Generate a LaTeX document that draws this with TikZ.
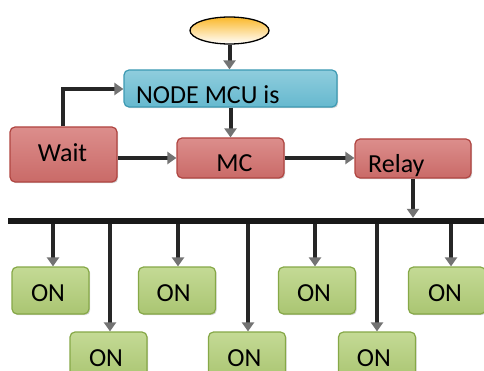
\documentclass[tikz,border=0pt]{standalone}
\usepackage{fontspec}
\setmainfont{Carlito}
\usetikzlibrary{arrows.meta,shadows,shapes.geometric}
\definecolor{redbase}{HTML}{C0504D}
\definecolor{redtop}{HTML}{DC8E8C}
\definecolor{redline}{HTML}{B04541}
\definecolor{bluebase}{HTML}{4BACC6}
\definecolor{bluetop}{HTML}{8FCDDD}
\definecolor{blueline}{HTML}{3D9AB3}
\definecolor{greenbase}{HTML}{9BBB59}
\definecolor{greentop}{HTML}{C4DA95}
\definecolor{greenline}{HTML}{86A847}
\definecolor{orangetop}{HTML}{FBB829}
\tikzset{
  x=1pt, y=-1pt,
  boxbase/.style={rounded corners=5pt, line width=1.2pt, inner sep=0pt,
    drop shadow={opacity=0.35, shadow xshift=1.2pt, shadow yshift=-1.2pt}},
  redbox/.style={boxbase, draw=redline, top color=redtop, middle color=redbase, bottom color=redbase!85!white},
  bluebox/.style={boxbase, draw=blueline, top color=bluetop, middle color=bluebase, bottom color=bluebase!85!white},
  greenbox/.style={boxbase, draw=greenline, top color=greentop, middle color=greenbase, bottom color=greenbase!85!white,
    minimum width=77pt, minimum height=47pt},
  lbl/.style={font=\fontsize{26}{30}\selectfont, inner sep=0pt, text=black},
  arr/.style={line width=4pt, draw=black!85, -{Triangle[width=12pt,length=9pt,fill=black!55,color=black!55]}},
}
\begin{document}
\begin{tikzpicture}
\useasboundingbox (0,0) rectangle (484,371);
% start ellipse
\node (start) [ellipse, draw=black, line width=1.3pt, minimum width=79pt, minimum height=27pt, inner sep=0pt,
  top color=orangetop, middle color=orangetop!40!white, bottom color=white] at (229.5,30.5) {};
% main boxes
\node (mcu) [bluebox, minimum width=213pt, minimum height=37pt] at (230.5,88.5) {};
\node[lbl, anchor=base west] at (136,104) {NODE MCU is};
\node (wait) [redbox, minimum width=107pt, minimum height=55pt] at (63.5,154.5) {};
\node[lbl, anchor=base] at (62.5,161.5) {Wait};
\node (mc) [redbox, minimum width=107pt, minimum height=40pt] at (230.5,158) {};
\node[lbl, anchor=base] at (234.5,172) {MC};
\node (relay) [redbox, minimum width=116pt, minimum height=39pt] at (413,158.5) {};
\node[lbl, anchor=base west] at (368,173) {Relay};
% bus
\node (bus) [fill=black!90, minimum width=476pt, minimum height=6pt, inner sep=0pt] at (246,221) {};
% ON boxes row 1
\node (on1) [greenbox] at (50.5,290.5) {};
\node (on2) [greenbox] at (177,290.5) {};
\node (on3) [greenbox] at (317,290.5) {};
\node (on4) [greenbox] at (447,290.5) {};
% ON boxes row 2
\node (on5) [greenbox] at (108.5,355.5) {};
\node (on6) [greenbox] at (247,355.5) {};
\node (on7) [greenbox] at (377,355.5) {};
\foreach \x in {48,173.7,314,445} \node[lbl, anchor=base] at (\x,301) {ON};
\foreach \x in {106,244.3,373.8} \node[lbl, anchor=base] at (\x,366) {ON};
% connectors
\draw[arr] (start.south) -- (start.south |- mcu.north);
\draw[arr] (mcu.south) -- (mcu.south |- mc.north);
\draw[arr] ([xshift=-0.5pt]wait.north) |- (mcu.west |- 0,89);
\draw[arr] (wait.east |- 0,158) -- (mc.west |- 0,158);
\draw[arr] (mc.east) -- (relay.west |- mc.east);
\draw[arr] (relay.south) -- (relay.south |- bus.north);
\draw[arr] ([xshift=2.5pt]on1.north |- bus.south) -- ([xshift=2.5pt]on1.north);
\draw[arr] ([xshift=1pt]on2.north |- bus.south) -- ([xshift=1pt]on2.north);
\draw[arr] ([xshift=-2pt]on3.north |- bus.south) -- ([xshift=-2pt]on3.north);
\draw[arr] ([xshift=4pt]on4.north |- bus.south) -- ([xshift=4pt]on4.north);
\draw[arr] ([xshift=1.5pt]on5.north |- bus.south) -- ([xshift=1.5pt]on5.north);
\draw[arr] ([xshift=1pt]on6.north |- bus.south) -- ([xshift=1pt]on6.north);
\draw[arr] (on7.north |- bus.south) -- (on7.north);
\end{tikzpicture}
\end{document}
